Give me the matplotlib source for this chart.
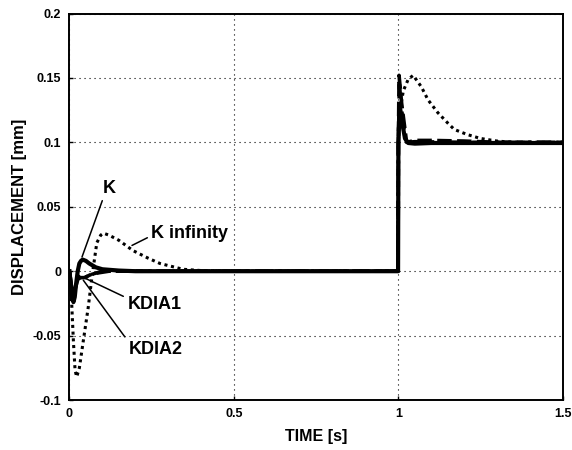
import matplotlib
matplotlib.use("Agg")
import matplotlib.pyplot as plt

plt.rcParams['font.family'] = ['Liberation Sans', 'DejaVu Sans']
plt.rcParams['font.weight'] = 'bold'

# ---- data ----
t_K = [0, 0.004, 0.008, 0.012, 0.016, 0.02, 0.025, 0.03, 0.035, 0.04, 0.05, 0.06,
       0.08, 0.1, 0.15, 0.2, 0.5, 0.999, 1.0, 1.004, 1.008, 1.013, 1.02, 1.03, 1.05,
       1.1, 1.5]
v_K = [0, -0.012, -0.021, -0.024, -0.02, -0.01, 0.0, 0.006, 0.008, 0.009, 0.008, 0.006,
       0.003, 0.0015, 0.0005, 0, 0, 0, 0.1, 0.128, 0.122, 0.113, 0.103, 0.0995, 0.099,
       0.0995, 0.0995]

t_Kinf = [0, 0.003, 0.007, 0.012, 0.017, 0.022, 0.03, 0.042, 0.057, 0.068, 0.083,
          0.095, 0.103, 0.12, 0.15, 0.193, 0.24, 0.275, 0.345, 0.4, 0.5, 0.999, 1.0,
          1.005, 1.015, 1.03, 1.045, 1.07, 1.09, 1.12, 1.15, 1.17, 1.21, 1.25, 1.3,
          1.35, 1.5]
v_Kinf = [0, -0.01, -0.027, -0.055, -0.077, -0.082, -0.075, -0.054, -0.028, -0.005,
          0.022, 0.028, 0.0295, 0.028, 0.024, 0.016, 0.01, 0.006, 0.0015, 0.0005, 0, 0,
          0.1, 0.125, 0.14, 0.149, 0.152, 0.143, 0.133, 0.123, 0.115, 0.11, 0.106,
          0.103, 0.101, 0.1, 0.1]

t_KDIA1 = [0, 0.005, 0.01, 0.015, 0.025, 0.035, 0.045, 0.07, 0.12, 0.5, 0.999, 1.0,
           1.002, 1.01, 1.025, 1.05, 1.1, 1.2, 1.3, 1.5]
v_KDIA1 = [0, -0.01, -0.018, -0.014, -0.006, -0.005, -0.005, -0.002, 0, 0, 0, 0.1,
           0.152, 0.13, 0.1, 0.1015, 0.1015, 0.101, 0.1, 0.1]

t_KDIA2 = [0, 0.006, 0.012, 0.018, 0.028, 0.037, 0.06, 0.1, 0.5, 0.999, 1.0, 1.003,
           1.01, 1.022, 1.05, 1.2, 1.5]
v_KDIA2 = [0, -0.012, -0.02, -0.013, -0.004, -0.007, -0.003, 0, 0, 0, 0.1, 0.145,
           0.125, 0.1, 0.1005, 0.1, 0.1]

x_ticks = [0, 0.5, 1, 1.5]
x_ticklabels = ['0', '0.5', '1', '1.5']
y_ticks = [-0.1, -0.05, 0, 0.05, 0.1, 0.15, 0.2]
y_ticklabels = ['-0.1', '-0.05', '0', '0.05', '0.1', '0.15', '0.2']

fig = plt.figure(figsize=(5.72, 4.5), dpi=100)
ax = fig.add_axes([0.1215, 0.111, 0.8625, 0.859])

ax.plot(t_Kinf, v_Kinf, color='black', lw=2.2, linestyle=(0, (1, 1.2)))
ax.plot(t_KDIA1, v_KDIA1, color='black', lw=2.6, linestyle=(0, (4, 1.5)))
ax.plot(t_KDIA2, v_KDIA2, color='black', lw=2.6, linestyle=(0, (5, 1.5, 1, 1.5)))
ax.plot(t_K, v_K, color='black', lw=3.0)

ax.set_xlim(0, 1.5)
ax.set_ylim(-0.1, 0.2)
ax.set_xticks(x_ticks)
ax.set_xticklabels(x_ticklabels)
ax.set_yticks(y_ticks)
ax.set_yticklabels(y_ticklabels)
ax.tick_params(direction='in', length=3, width=1, labelsize=9, pad=6)
for lab in ax.get_xticklabels() + ax.get_yticklabels():
    lab.set_fontweight('bold')
ax.grid(True, color='black', linestyle=(0, (1, 3.5)), lw=0.8)
for s in ax.spines.values():
    s.set_linewidth(1.4)

ax.set_xlabel('TIME [s]', fontsize=11.5, fontweight='bold', labelpad=6)
ax.set_ylabel('DISPLACEMENT [mm]', fontsize=12, fontweight='bold', labelpad=4)

ap = dict(arrowstyle='-', color='black', lw=1.1, shrinkA=1, shrinkB=0)
ax.annotate('K', xy=(0.038, 0.011), xytext=(0.12, 0.0645), fontsize=13,
            fontweight='bold', ha='center', va='center',
            arrowprops=dict(ap, relpos=(0.1, 0.0)))
ax.annotate('K infinity', xy=(0.19, 0.020), xytext=(0.366, 0.0295), fontsize=13,
            fontweight='bold', ha='center', va='center',
            arrowprops=dict(ap, relpos=(0.0, 0.35)))
ax.annotate('KDIA1', xy=(0.047, -0.0054), xytext=(0.258, -0.0256), fontsize=13,
            fontweight='bold', ha='center', va='center',
            arrowprops=dict(ap, relpos=(0.0, 0.85)))
ax.annotate('KDIA2', xy=(0.042, -0.007), xytext=(0.261, -0.0606), fontsize=13,
            fontweight='bold', ha='center', va='center',
            arrowprops=dict(ap, relpos=(0.0, 0.95)))

fig.savefig('out.png', dpi=100)
